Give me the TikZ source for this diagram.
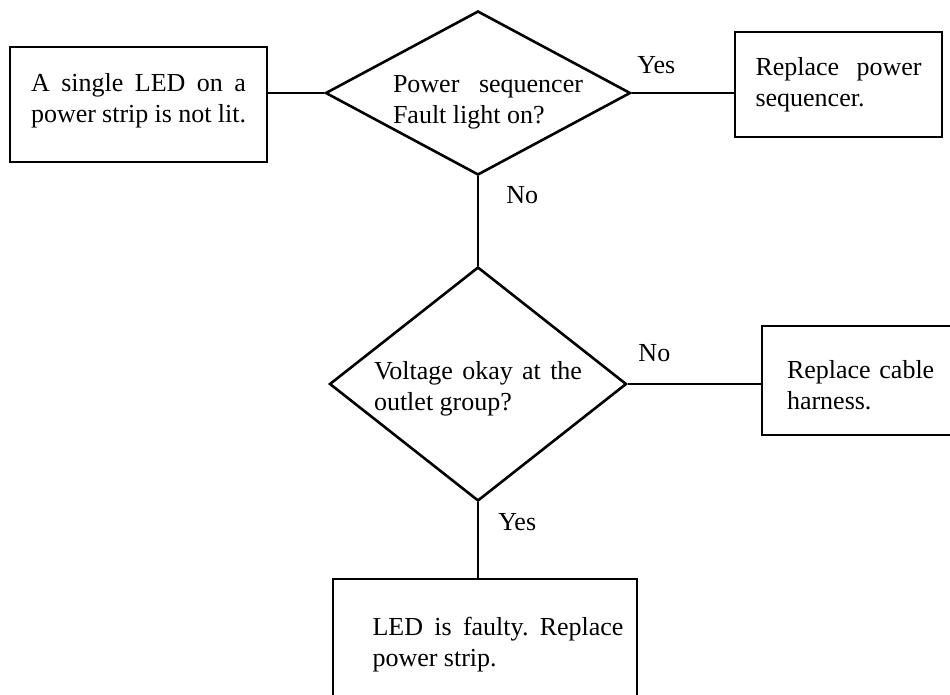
\documentclass[tikz,border=0pt]{standalone}
\usepackage{fontspec}
\setmainfont{Liberation Serif}
\usetikzlibrary{shapes.geometric}
\frenchspacing
\begin{document}
\begin{tikzpicture}[x=1pt,y=-1pt,line width=2.6pt,
	every node/.style={font=\fontsize{26}{31}\selectfont},
	actbox/.style={draw,rectangle,align=justify,inner sep=0pt},
	decision/.style={draw,diamond,align=justify,inner sep=0pt},
	answer/.style={inner sep=0pt}]
\useasboundingbox (0,0) rectangle (950,694);
\node[actbox,minimum width=257pt,minimum height=115pt,text width=215pt,text depth=45pt] (start) at (138.5,104.5) {A single LED on a power strip is not lit.};
\node[decision,minimum width=305pt,minimum height=164pt,shape aspect=1.86,inner sep=-8pt,text height=35pt] (fault) at (478,93) {\hspace*{20pt}\parbox[t]{190pt}{Power sequencer Fault light on?}};
\node[actbox,minimum width=207pt,minimum height=105pt,text width=166pt] (seq) at (838.5,84.5) {Replace power sequencer.};
\node[decision,minimum width=297pt,minimum height=234pt,shape aspect=1.27,text width=208pt,text height=28pt] (volt) at (478,384) {Voltage okay at the outlet group?};
\node[actbox,align=left,minimum width=200pt,minimum height=109pt,text width=150pt,text height=28pt] (cable) at (862,380.5) {Replace cable harness.};
\node[actbox,minimum width=304pt,minimum height=132pt] (led) at (485,645) {\hspace*{26pt}\parbox[t]{251pt}{LED is faulty. Replace power strip.}};
\draw (start.east |- fault.west) -- (fault.west);
\draw (fault.east) -- node[answer,pos=0.24,above=18pt] (yes1) {Yes} (seq.west |- fault.east);
\draw (fault.south) -- node[answer,pos=0.21,right=27pt] (no1) {No} (volt.north);
\draw (volt.east) -- node[answer,pos=0.2,above=21pt] (no2) {No} (cable.west |- volt.east);
\draw (volt.south) -- node[answer,pos=0.26,right=19pt] (yes2) {Yes} (volt.south |- led.north);
\end{tikzpicture}
\end{document}
